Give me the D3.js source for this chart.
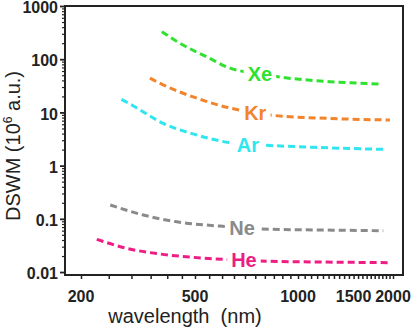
<!DOCTYPE html>
<html>
<head>
<meta charset="utf-8">
<script src="https://cdn.jsdelivr.net/npm/d3@7"></script>
<style>
  html, body { margin: 0; padding: 0; background: #fff; }
  svg { display: block; }
  text { font-family: "Liberation Sans", Arial, sans-serif; }
</style>
</head>
<body>
<svg id="chart" width="412" height="331"></svg>
<script>
// Wavelength-dependent DSWM for the noble gases (wavelength in nm, DSWM in 10^6 a.u.)
const wlXe  = [383, 443, 541, 633, 690, 774, 896, 1263, 1842];
const valXe = [329, 199, 111, 68, 59, 52.7, 45.7, 37.8, 34.2];

const wlKr  = [348, 387, 506, 619, 677, 750, 819, 1263, 1956];
const valKr = [44, 33, 18.5, 12.5, 11, 9.8, 9.0, 7.7, 7.2];

const wlAr  = [277, 305, 387, 506, 633, 714, 791, 1118, 1863];
const valAr = [17.6, 13.2, 6.24, 3.76, 2.7, 2.5, 2.42, 2.21, 2.02];

const wlNe  = [253, 330, 432, 592, 686, 774, 1233, 1863];
const valNe = [0.182, 0.118, 0.088, 0.073, 0.0686, 0.0643, 0.0615, 0.0597];

const wlHe  = [227, 289, 378, 493, 611, 695, 774, 1233, 1956];
const valHe = [0.0412, 0.0279, 0.0218, 0.0189, 0.0173, 0.0168, 0.0161, 0.0154, 0.0150];

const gasNames  = ["Xe", "Kr", "Ar", "Ne", "He"];
const gasColors = ["#2ee22e", "#f2842c", "#2ee6ef", "#8a8a8a", "#ee1d84"];
const labelIdx  = [5, 5, 5, 4, 5];

const xTickLabels = [200, 500, 1000, 1500, 2000];
const yTickLabels = [0.01, 0.1, 1, 10, 100, 1000];

const series = [
  { wl: wlXe, val: valXe }, { wl: wlKr, val: valKr }, { wl: wlAr, val: valAr },
  { wl: wlNe, val: valNe }, { wl: wlHe, val: valHe }
];

const svg = d3.select("#chart");
const plotL = 65, plotR = 403, plotT = 6, plotB = 275;

// piecewise logarithmic wavelength axis
const x = d3.scaleLog()
  .domain([176, 200, 500, 1000, 2000, 2150])
  .range([plotL, 81, 195, 298, 393, plotR]);

const y = d3.scaleLog()
  .domain([0.0088, 1000])
  .range([plotB, plotT]);

// curves
const line = d3.line()
  .x(d => x(d[0]))
  .y(d => y(d[1]))
  .curve(d3.curveMonotoneX);

series.forEach((s, i) => {
  const pts = s.wl.map((w, k) => [w, s.val[k]]);
  svg.append("path")
    .attr("d", line(pts))
    .attr("fill", "none")
    .attr("stroke", gasColors[i])
    .attr("stroke-width", 3)
    .attr("stroke-dasharray", "7,4");
});

// gas labels sitting on their curves
series.forEach((s, i) => {
  const k = labelIdx[i];
  const g = svg.append("g");
  const t = g.append("text")
    .attr("x", x(s.wl[k]))
    .attr("y", y(s.val[k]))
    .attr("dy", "0.36em")
    .attr("text-anchor", "middle")
    .attr("font-size", 20)
    .attr("font-weight", "bold")
    .attr("fill", gasColors[i])
    .text(gasNames[i]);
  const bb = t.node().getBBox();
  g.insert("rect", "text")
    .attr("x", bb.x - 4).attr("y", bb.y + 2)
    .attr("width", bb.width + 8).attr("height", bb.height - 4)
    .attr("fill", "#fff");
});

// axes
const xMinor = d3.range(200, 2001, 50);
svg.append("g")
  .attr("transform", `translate(0,${plotB})`)
  .call(d3.axisBottom(x).tickValues(xMinor).tickSize(4).tickFormat(""))
  .call(g => g.select(".domain").remove())
  .call(g => g.selectAll(".tick line").attr("stroke", "#222").attr("stroke-width", 1.5));

svg.append("g")
  .selectAll("text")
  .data(xTickLabels)
  .join("text")
  .attr("x", d => x(d))
  .attr("y", 302)
  .attr("text-anchor", "middle")
  .attr("font-size", 16)
  .attr("font-weight", "bold")
  .attr("fill", "#222")
  .text(d => d);

const yMinor = [];
for (let e = -2; e < 3; e++) for (let m = 2; m <= 9; m++) yMinor.push(m * Math.pow(10, e));
svg.append("g")
  .attr("transform", `translate(${plotL},0)`)
  .call(d3.axisLeft(y).tickValues(yMinor).tickSize(3).tickFormat(""))
  .call(g => g.select(".domain").remove())
  .call(g => g.selectAll(".tick line").attr("stroke", "#222").attr("stroke-width", 1.2));

svg.append("g")
  .attr("transform", `translate(${plotL},0)`)
  .call(d3.axisLeft(y).tickValues(yTickLabels).tickSize(5).tickPadding(2)
    .tickFormat(d => d >= 1 ? d3.format("d")(d) : String(d)))
  .call(g => g.select(".domain").remove())
  .call(g => g.selectAll(".tick line").attr("stroke", "#222").attr("stroke-width", 1.8))
  .call(g => g.selectAll(".tick text")
    .attr("dy", "0.42em")
    .attr("font-size", 16).attr("font-weight", "bold").attr("fill", "#222")
    .attr("font-family", "Liberation Sans, Arial, sans-serif"));

// frame
svg.append("rect")
  .attr("x", plotL).attr("y", plotT)
  .attr("width", plotR - plotL).attr("height", plotB - plotT)
  .attr("fill", "none")
  .attr("stroke", "#222")
  .attr("stroke-width", 2);

// axis titles
svg.append("text")
  .attr("x", 185).attr("y", 323)
  .attr("text-anchor", "middle")
  .attr("font-size", 20)
  .attr("fill", "#222")
  .style("white-space", "pre")
  .text("wavelength  (nm)");

const yt = svg.append("text")
  .attr("transform", "translate(20,146) rotate(-90)")
  .attr("text-anchor", "middle")
  .attr("font-size", 20)
  .attr("fill", "#222");
yt.append("tspan").text("DSWM (10");
yt.append("tspan").attr("font-size", 12).attr("dy", -8).text("6");
yt.append("tspan").attr("dy", 8).text(" a.u.)");
</script>
</body>
</html>
